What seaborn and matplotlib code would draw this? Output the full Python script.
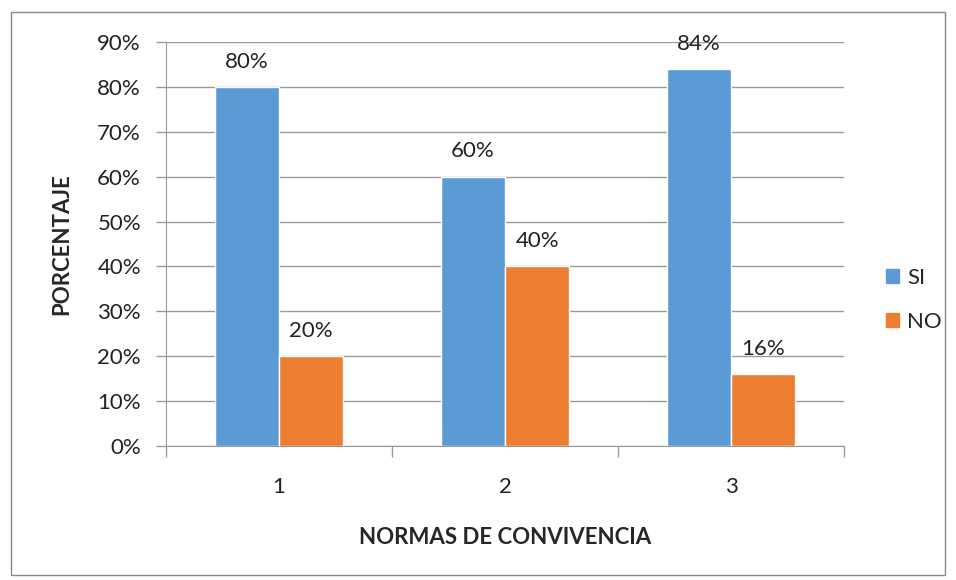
import seaborn as sns
import matplotlib.pyplot as plt
import pandas as pd
from matplotlib.patches import Rectangle

categorias = ["1", "2", "3"]
si = [80, 60, 84]
no = [20, 40, 16]
yticks = [0, 10, 20, 30, 40, 50, 60, 70, 80, 90]

df = pd.DataFrame({
    "norma": categorias * 2,
    "valor": si + no,
    "resp": ["SI"] * 3 + ["NO"] * 3,
})

sns.set_style("white")
plt.rcParams['font.family'] = ['Lato', 'DejaVu Sans']

fig = plt.figure(figsize=(9.56, 5.8), dpi=100)
ax = fig.add_axes([0.1736, 0.231, 0.7092, 0.6966])

sns.barplot(data=df, x="norma", y="valor", hue="resp",
            palette={"SI": "#5B9BD5", "NO": "#ED7D31"},
            width=0.57, saturation=1, ax=ax, legend=False)

for c in ax.containers:
    ax.bar_label(c, labels=[f"{v:.0f}%" for v in c.datavalues],
                 padding=11, fontsize=16, color="#222222")

ax.set_ylim(0, 90)
ax.set_xlim(-0.5, 2.5)
ax.set_yticks(yticks)
ax.set_yticklabels([f"{t}%" for t in yticks], fontsize=16, color="#222222")
ax.set_xticks([-0.5, 0.5, 1.5, 2.5], minor=False)
ax.set_xticklabels([])
ax.set_xticks([0, 1, 2], minor=True)
ax.set_xticklabels(categorias, minor=True, fontsize=16, color="#222222")
ax.tick_params(axis="x", which="major", length=8, color="#999999", width=1, direction="out", bottom=True)
ax.tick_params(axis="x", which="minor", length=0, pad=22)
ax.tick_params(axis="y", length=7, color="#999999", width=1, direction="out", left=True, pad=11)
ax.yaxis.grid(True, color="#999999", linewidth=1)
ax.set_axisbelow(True)
for s in ["top", "right"]:
    ax.spines[s].set_visible(False)
ax.spines["left"].set_color("#999999")
ax.spines["bottom"].set_color("#999999")

ax.set_xlabel("NORMAS DE CONVIVENCIA", fontsize=16, fontweight="bold", labelpad=22)
ax.set_ylabel("PORCENTAJE", fontsize=16, fontweight="bold", labelpad=18)

handles = [Rectangle((0, 0), 1, 1, color="#5B9BD5"), Rectangle((0, 0), 1, 1, color="#ED7D31")]
fig.legend(handles, ["SI", "NO"], loc="center left", bbox_to_anchor=(0.906, 0.483),
           frameon=False, fontsize=16, handlelength=0.6, handleheight=0.6,
           handletextpad=0.35, labelspacing=1.1)

fig.patches.append(Rectangle((0.011, 0.008), 0.978, 0.972, transform=fig.transFigure,
                             fill=False, edgecolor="#888888", linewidth=1))

fig.savefig("out.png", dpi=100)
